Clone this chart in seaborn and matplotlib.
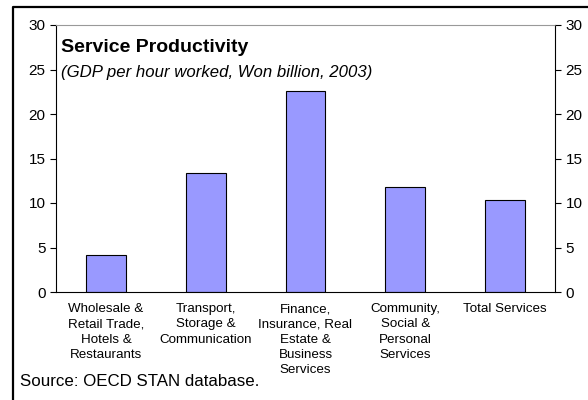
import matplotlib
matplotlib.use("Agg")
import matplotlib.pyplot as plt
from matplotlib.lines import Line2D
import seaborn as sns
import pandas as pd

categories = [
    "Wholesale &\nRetail Trade,\nHotels &\nRestaurants",
    "Transport,\nStorage &\nCommunication",
    "Finance,\nInsurance, Real\nEstate &\nBusiness\nServices",
    "Community,\nSocial &\nPersonal\nServices",
    "Total Services",
]
productivity = [4.2, 13.4, 22.6, 11.8, 10.3]
y_ticks = [0, 5, 10, 15, 20, 25, 30]

title = "Service Productivity"
subtitle = "(GDP per hour worked, Won billion, 2003)"
source = "Source: OECD STAN database."

sns.set_style("white")
plt.rcParams["font.family"] = ["Liberation Sans", "DejaVu Sans"]
plt.rcParams["text.color"] = "black"
plt.rcParams["xtick.color"] = "black"
plt.rcParams["ytick.color"] = "black"
plt.rcParams["xtick.labelcolor"] = "black"
plt.rcParams["ytick.labelcolor"] = "black"

df = pd.DataFrame({"sector": categories, "value": productivity})

fig = plt.figure(figsize=(5.88, 4.0), dpi=100)
ax = fig.add_axes([56 / 588, 1 - 292 / 400, (555 - 56) / 588, (292 - 25) / 400])

sns.barplot(data=df, x="sector", y="value", ax=ax, color="#9999FF",
            width=0.4, edgecolor="black", linewidth=0.8, saturation=1)

ax.set_xlim(-0.5, len(categories) - 0.5)
ax.set_ylim(0, 30)
ax.set_yticks(y_ticks)
ax.set_xlabel("")
ax.set_ylabel("")

# category labels without tick marks; boundary ticks between categories
ax.set_xticks(range(len(categories)))
ax.set_xticklabels(categories, fontsize=9.6, linespacing=1.37, va="top", color="black")
ax.tick_params(axis="x", which="major", length=0, pad=8)
ax.set_xticks([i - 0.5 for i in range(len(categories) + 1)], minor=True)
ax.tick_params(axis="x", which="minor", length=4.5, width=0.8, color="black", direction="out")
ax.tick_params(axis="y", length=4.5, width=0.8, color="black", labelcolor="black",
               direction="out", labelsize=11, pad=3, left=True)

for side in ["left", "bottom", "right"]:
    ax.spines[side].set_visible(True)
    ax.spines[side].set_color("black")
    ax.spines[side].set_linewidth(0.8)
ax.spines["top"].set_color("#999999")
ax.spines["top"].set_linewidth(0.8)

ax2 = ax.twinx()
ax2.set_ylim(0, 30)
ax2.set_yticks(y_ticks)
ax2.tick_params(axis="y", length=4.5, width=0.8, color="black", labelcolor="black",
                direction="out", labelsize=11, pad=3, right=True)
for side in ax2.spines:
    ax2.spines[side].set_visible(False)

fig.text(61 / 588, 1 - 48 / 400, title, fontsize=14, fontweight="bold",
         va="center", ha="left", color="black")
fig.text(61 / 588, 1 - 73 / 400, subtitle, fontsize=12.1, fontstyle="italic",
         va="center", ha="left", color="black")
fig.text(20 / 588, 1 - 382 / 400, source, fontsize=12.2, va="center", ha="left", color="black")

# outer frame
frame_x = [13 / 588, 13 / 588, 1.0]
frame_y = [0.0, 1 - 7 / 400, 1 - 7 / 400]
fig.add_artist(Line2D(frame_x, frame_y, transform=fig.transFigure, color="black", linewidth=1.6))

fig.savefig("out.png", dpi=100)
